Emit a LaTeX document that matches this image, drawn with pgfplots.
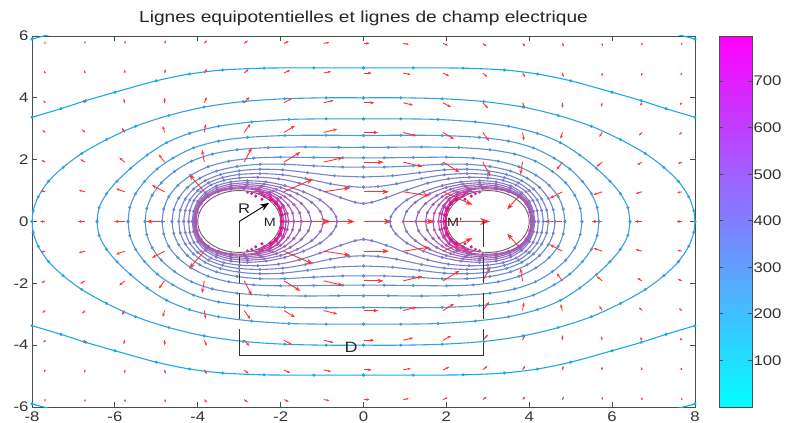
\documentclass[border=0pt]{standalone}
\usepackage{pgfplots}
\pgfplotsset{compat=1.18}
\usepackage{pgfplotstable}
\usetikzlibrary{arrows.meta}
\usepackage{fontspec}
\setmainfont[FakeStretch=1.2]{Liberation Sans}
\definecolor{qred}{rgb}{1,0.2,0.2}
\pgfplotsset{/pgf/number format/assume math mode=true}

% ---- quiver data (quadrant x<=0, y>=0), mirrored by symmetry ----
\pgfplotstableread{
x y u v
-7.68 0 -0.1200 0
-7.68 0.96 -0.1122 0.0337
-7.68 1.92 -0.0922 0.0587
-7.68 2.88 -0.0677 0.0718
-7.68 3.84 -0.0448 0.0750
-7.68 4.8 -0.0262 0.0718
-7.68 5.76 -0.0124 0.0655
-6.72 0 -0.1659 0
-6.72 0.96 -0.1501 0.0550
-6.72 1.92 -0.1133 0.0900
-6.72 2.88 -0.0735 0.1021
-6.72 3.84 -0.0412 0.0992
-6.72 4.8 -0.0182 0.0893
-6.72 5.76 -0.0030 0.0774
-5.76 0 -0.2482 0
-5.76 0.96 -0.2104 0.1001
-5.76 1.92 -0.1352 0.1460
-5.76 2.88 -0.0704 0.1471
-5.76 3.84 -0.0277 0.1297
-5.76 4.8 -0.0022 0.1085
-5.76 5.76 0.0120 0.0888
-4.8 0 -0.4274 0
-4.8 0.96 -0.3062 0.2151
-4.8 1.92 -0.1390 0.2474
-4.8 2.88 -0.0432 0.2080
-4.8 3.84 0.0031 0.1627
-4.8 4.8 0.0245 0.1254
-4.8 5.76 0.0335 0.0969
-3.84 0.96 -0.3728 0.5698
-3.84 1.92 -0.0557 0.3991
-3.84 2.88 0.0309 0.2677
-3.84 3.84 0.0568 0.1861
-3.84 4.8 0.0626 0.1334
-3.84 5.76 0.0608 0.0980
-2.88 1.92 0.1861 0.4686
-2.88 2.88 0.1516 0.2795
-2.88 3.84 0.1274 0.1823
-2.88 4.8 0.1073 0.1249
-2.88 5.76 0.0904 0.0885
-1.92 0 1.1292 0
-1.92 0.96 0.7130 0.4216
-1.92 1.92 0.3989 0.3268
-1.92 2.88 0.2655 0.2158
-1.92 3.84 0.1942 0.1427
-1.92 4.8 0.1488 0.0967
-1.92 5.76 0.1172 0.0673
-0.96 0 0.7427 0
-0.96 0.96 0.6398 0.1310
-0.96 1.92 0.4644 0.1455
-0.96 2.88 0.3289 0.1111
-0.96 3.84 0.2380 0.0769
-0.96 4.8 0.1773 0.0525
-0.96 5.76 0.1357 0.0364
0 0 0.6667 0
0 0.96 0.6047 0
0 1.92 0.4730 0
0 2.88 0.3469 0
0 3.84 0.2527 0
0 4.8 0.1873 0
0 5.76 0.1423 0
}\Qdata

% ---- equipotentials enclosing both cylinders (quarter curves) ----
\pgfplotstableread{
x y
-8.3 5.77
-8.0 5.9
-7.6 6.04
-7.3 6.13
}\Czero
\pgfplotstableread{
x y
-8.5 3.18
-8.0 3.37
-7.3 3.65
-6.7 3.91
-6.0 4.18
-5.0 4.55
-4.2 4.77
-3.4 4.9
-2.4 4.96
-1.2 4.97
0 4.97
}\Lone
\pgfplotstableread{
x y
-8.0 0
-7.97 0.35
-7.85 0.8
-7.6 1.3
-7.25 1.75
-6.8 2.2
-6.2 2.65
-5.5 3.08
-4.7 3.43
-3.85 3.7
-2.9 3.88
-1.9 3.97
-0.9 4.0
0 4.0
}\Ltwo
\pgfplotstableread{
x y
-6.43 0
-6.38 0.45
-6.2 0.9
-5.95 1.3
-5.62 1.72
-5.22 2.15
-4.75 2.55
-4.2 2.85
-3.5 3.08
-2.7 3.22
-1.8 3.3
-0.9 3.32
0 3.32
}\Lthree
\pgfplotstableread{
x y
-5.68 0
-5.64 0.45
-5.5 0.9
-5.28 1.3
-4.98 1.7
-4.6 2.05
-4.1 2.38
-3.5 2.6
-2.8 2.72
-1.9 2.78
-0.9 2.79
0 2.78
}\Lfour
\pgfplotstableread{
x y
-5.27 0
-5.23 0.42
-5.1 0.85
-4.88 1.25
-4.56 1.62
-4.15 1.95
-3.65 2.18
-3.05 2.32
-2.3 2.39
-1.4 2.41
-0.6 2.4
0 2.4
}\Lfive
\pgfplotstableread{
x y
-4.86 0
-4.82 0.4
-4.7 0.8
-4.48 1.17
-4.16 1.5
-3.75 1.77
-3.25 1.95
-2.65 2.05
-2.0 2.08
-1.2 2.07
-0.5 2.06
0 2.06
}\Lsix
\pgfplotstableread{
x y
-4.62 0
-4.58 0.38
-4.46 0.75
-4.25 1.1
-3.95 1.4
-3.55 1.63
-3.05 1.78
-2.5 1.85
-1.9 1.85
-1.2 1.8
-0.5 1.76
0 1.76
}\Lseven
\pgfplotstableread{
x y
-4.46 0
-4.42 0.37
-4.3 0.73
-4.1 1.05
-3.82 1.32
-3.45 1.52
-3.0 1.64
-2.5 1.69
-1.95 1.67
-1.35 1.58
-0.7 1.48
0 1.44
}\Leight
\pgfplotstableread{
x y
-4.34 0
-4.3 0.36
-4.19 0.7
-4.0 1.0
-3.74 1.25
-3.4 1.42
-3.0 1.52
-2.5 1.55
-1.95 1.51
-1.4 1.39
-0.8 1.22
-0.35 1.13
0 1.11
}\Lnine
\pgfplotstableread{
x y
-4.22 0
-4.19 0.35
-4.09 0.68
-3.92 0.96
-3.68 1.18
-3.37 1.33
-3.0 1.41
-2.55 1.43
-2.05 1.38
-1.55 1.24
-1.05 1.02
-0.55 0.77
-0.2 0.62
0 0.58
}\Lten

% ---- equipotentials around one cylinder (upper halves, left cylinder) ----
\pgfplotstableread{
x y
-4.13 0
-4.1 0.33
-4.0 0.65
-3.82 0.93
-3.55 1.15
-3.2 1.28
-2.8 1.32
-2.35 1.28
-1.9 1.16
-1.45 0.96
-1.05 0.7
-0.78 0.4
-0.66 0.15
-0.64 0
}\Cone
\pgfplotstableread{
x y
-4.11 0
-4.08 0.32
-3.98 0.62
-3.8 0.88
-3.55 1.08
-3.2 1.21
-2.8 1.25
-2.4 1.21
-2.0 1.1
-1.6 0.9
-1.25 0.62
-1.04 0.32
-0.96 0
}\Ctwo
\pgfplotstableread{
x y
-4.09 0
-4.06 0.31
-3.96 0.6
-3.78 0.85
-3.52 1.03
-3.2 1.15
-2.82 1.19
-2.45 1.15
-2.1 1.04
-1.77 0.84
-1.5 0.58
-1.33 0.3
-1.26 0
}\Cthree
\pgfplotstableread{
x y
-4.07 0
-4.04 0.31
-3.94 0.59
-3.76 0.83
-3.5 1.0
-3.2 1.1
-2.85 1.13
-2.5 1.1
-2.18 0.99
-1.9 0.8
-1.68 0.55
-1.54 0.28
-1.5 0
}\Cfour
\pgfplotstableread{
x y
-4.055 0
-4.03 0.3
-3.93 0.58
-3.75 0.81
-3.5 0.98
-3.2 1.07
-2.87 1.09
-2.55 1.05
-2.25 0.95
-2.0 0.77
-1.82 0.53
-1.71 0.27
-1.68 0
}\Cfive
\pgfplotstableread{
x y
-4.04 0
-4.01 0.3
-3.92 0.57
-3.74 0.8
-3.5 0.96
-3.2 1.04
-2.88 1.06
-2.58 1.02
-2.3 0.91
-2.08 0.74
-1.93 0.51
-1.84 0.26
-1.81 0
}\Csix
\pgfplotstableread{
x y
-2.8 0.95
-2.5 0.96
-2.25 0.87
-2.06 0.7
-1.95 0.48
-1.89 0.24
-1.87 0
}\Aone
\pgfplotstableread{
x y
-2.7 0.9
-2.45 0.9
-2.25 0.8
-2.1 0.63
-2.0 0.43
-1.95 0.21
-1.93 0
}\Atwo
\pgfplotstableread{
x y
-2.6 0.82
-2.4 0.82
-2.22 0.72
-2.1 0.56
-2.02 0.38
-1.98 0.19
-1.965 0
}\Athree
\pgfplotstableread{
x y
-2.45 0.72
-2.25 0.7
-2.12 0.58
-2.04 0.42
-2.0 0.22
-1.985 0
}\Afour

\newcommand{\mirrored}[2]{%
  \addplot[contourline,#2] table {#1};
  \addplot[contourline,#2] table[x expr=-\thisrow{x}] {#1};
  \addplot[contourline,#2] table[y expr=-\thisrow{y}] {#1};
  \addplot[contourline,#2] table[x expr=-\thisrow{x},y expr=-\thisrow{y}] {#1};
}
\newcommand{\arrowtip}{-{Stealth[length=2bp+0.0075bp*\pgfplotspointmetatransformed, width=1.6bp+0.005bp*\pgfplotspointmetatransformed]}}

\begin{document}
\begin{tikzpicture}
\begin{axis}[
  scale only axis, width=663bp, height=371bp,
  xmin=-8, xmax=8, ymin=-6, ymax=6,
  xtick={-8,-6,...,8}, ytick={-6,-4,...,6},
  tick align=inside, major tick length=5bp,
  axis line style={black!70, line width=0.8bp},
  every tick/.style={black!70, line width=0.8bp},
  tick label style={font=\fontsize{14}{14}\selectfont, text=black!80},
  xticklabel style={yshift=-1bp},
  title={Lignes equipotentielles et lignes de champ electrique},
  title style={font=\fontsize{16}{16}\selectfont, text=black!85, yshift=1bp},
  colormap={mycool}{rgb=(0,1,1) rgb=(1,0,1)},
  point meta min=0, point meta max=797,
  colorbar,
  colorbar/width=33bp,
  colorbar shift/.style={xshift=24bp},
  colorbar style={
    at={(parent axis.north east)}, anchor=north west,
    ytick={100,200,...,700},
    tick align=inside, major tick length=4bp,
    ytick pos=both, yticklabel pos=right,
    yticklabel style={xshift=-2bp},
    axis line style={black!70, line width=0.8bp},
    every tick/.style={black!70, line width=0.8bp},
    tick label style={font=\fontsize{14}{14}\selectfont, text=black!80},
  },
  contourline/.style={smooth, line width=1.1bp, mark=*, mark size=0.9bp, mark options={solid}},
  quiv/.style={qred, line width=0.9bp,
     point meta={700*sqrt((\thisrow{u})^2+(\thisrow{v})^2)}},
]
\coordinate (SW) at (rel axis cs:0,0);

% equipotential lines
\mirrored{\Czero}{color=magenta!3!cyan}
\mirrored{\Lone}{color=magenta!8!cyan}
\mirrored{\Ltwo}{color=magenta!15!cyan}
\mirrored{\Lthree}{color=magenta!21!cyan}
\mirrored{\Lfour}{color=magenta!26!cyan}
\mirrored{\Lfive}{color=magenta!30!cyan}
\mirrored{\Lsix}{color=magenta!34!cyan}
\mirrored{\Lseven}{color=magenta!37!cyan}
\mirrored{\Leight}{color=magenta!40!cyan}
\mirrored{\Lnine}{color=magenta!43!cyan}
\mirrored{\Lten}{color=magenta!46!cyan}
\mirrored{\Cone}{color=magenta!49!cyan}
\mirrored{\Ctwo}{color=magenta!53!cyan}
\mirrored{\Cthree}{color=magenta!57!cyan}
\mirrored{\Cfour}{color=magenta!61!cyan}
\mirrored{\Cfive}{color=magenta!65!cyan}
\mirrored{\Csix}{color=magenta!70!cyan}
\mirrored{\Aone}{color=magenta!77!cyan}
\mirrored{\Atwo}{color=magenta!84!cyan}
\mirrored{\Athree}{color=magenta!91!cyan}
\mirrored{\Afour}{color=magenta!97!cyan}

% the two cylinders
\draw[fill=white, draw=black!60, line width=0.9bp] (axis cs:-3,0) ellipse [x radius=1, y radius=1];
\draw[fill=white, draw=black!60, line width=0.9bp] (axis cs:3,0) ellipse [x radius=1, y radius=1];

% electric field (quiver)
\addplot[quiv, quiver={u=\thisrow{u}, v=\thisrow{v},
   every arrow/.append style={\arrowtip}}]
   table {\Qdata};
\addplot[quiv, quiver={u=\thisrow{u}, v={-1*\thisrow{v}},
   every arrow/.append style={\arrowtip}}]
   table[x expr=-\thisrow{x}] {\Qdata};
\addplot[quiv, quiver={u=\thisrow{u}, v={-1*\thisrow{v}},
   every arrow/.append style={\arrowtip}}]
   table[y expr=-\thisrow{y}] {\Qdata};
\addplot[quiv, quiver={u=\thisrow{u}, v=\thisrow{v},
   every arrow/.append style={\arrowtip}}]
   table[x expr=-\thisrow{x}, y expr=-\thisrow{y}] {\Qdata};

% annotations
\draw[black!80, line width=1bp, dash pattern=on 26bp off 10bp] (axis cs:-3,0) -- (axis cs:-3,-4.34);
\draw[black!80, line width=1bp, dash pattern=on 26bp off 10bp] (axis cs:2.9,0) -- (axis cs:2.9,-4.34);
\draw[black!80, line width=1bp] (axis cs:-3,-4.34) -- (axis cs:2.9,-4.34);
\draw[black, line width=0.9bp, -{Stealth[length=9bp, width=7bp]}] (axis cs:-3,0) -- (axis cs:-2.28,0.6);
\node[font=\fontsize{14}{14}\selectfont, text=black!85] at (axis cs:-2.88,0.42) {R};
\node[font=\fontsize{12}{12}\selectfont, text=black!85] at (axis cs:-2.26,-0.03) {M};
\node[font=\fontsize{12}{12}\selectfont, text=black!85] at (axis cs:2.2,-0.03) {M'};
\node[font=\fontsize{15}{15}\selectfont, text=black!85] at (axis cs:-0.3,-4.07) {D};
\end{axis}
\pgfresetboundingbox
\path (SW) ++(-32bp,-16bp) rectangle ++(788bp,423bp);
\end{tikzpicture}
\end{document}
